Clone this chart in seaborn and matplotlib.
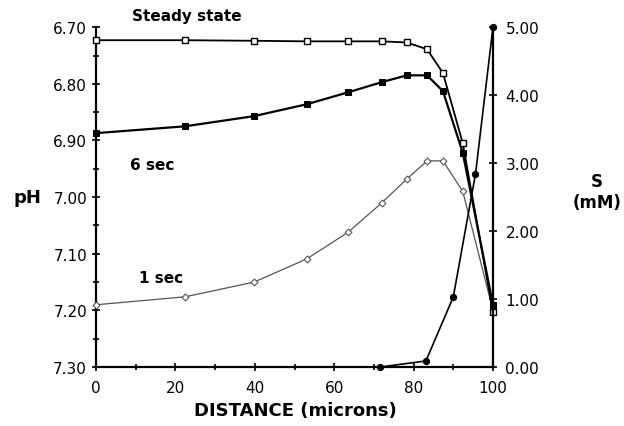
import matplotlib
matplotlib.use("Agg")
import matplotlib.pyplot as plt
import seaborn as sns
import pandas as pd
from matplotlib.ticker import MultipleLocator, FormatStrFormatter

# ---- data ----
distance = [0, 22.4, 39.8, 53.1, 63.5, 72, 78.3, 83.4, 87.4, 92.4, 100]
ph_steady = [6.723, 6.723, 6.724, 6.725, 6.725, 6.725, 6.727, 6.739, 6.781, 6.905, 7.203]
ph_6sec = [6.887, 6.875, 6.857, 6.836, 6.815, 6.797, 6.785, 6.785, 6.813, 6.922, 7.19]
ph_1sec = [7.19, 7.176, 7.15, 7.109, 7.062, 7.010, 6.968, 6.936, 6.936, 6.990, 7.20]
s_distance = [71.5, 83.1, 90.0, 95.6, 100]
s_conc = [0.0, 0.09, 1.03, 2.84, 5.0]

x_ticks = [0, 20, 40, 60, 80, 100]
ph_ticks = [6.70, 6.80, 6.90, 7.00, 7.10, 7.20, 7.30]
s_ticks = [0.0, 1.0, 2.0, 3.0, 4.0, 5.0]

sns.set_style("ticks")
plt.rcParams["font.family"] = ["DejaVu Sans"]
plt.rcParams["text.color"] = "black"
plt.rcParams["axes.labelcolor"] = "black"
plt.rcParams["xtick.color"] = "black"
plt.rcParams["ytick.color"] = "black"

fig, ax = plt.subplots(figsize=(6.24, 4.27), dpi=100)
fig.subplots_adjust(left=0.154, right=0.790, bottom=0.138, top=0.934)

df = pd.DataFrame({"d": distance, "steady": ph_steady, "six": ph_6sec, "one": ph_1sec})
sdf = pd.DataFrame({"d": s_distance, "s": s_conc})

sns.lineplot(data=df, x="d", y="one", ax=ax, color="#555555", lw=0.9,
             marker="D", markersize=3.5, markerfacecolor="white",
             markeredgecolor="#555555", markeredgewidth=0.8, clip_on=False, zorder=3)
sns.lineplot(data=df, x="d", y="six", ax=ax, color="black", lw=1.6,
             marker="s", markersize=5, markerfacecolor="black",
             markeredgecolor="black", clip_on=False, zorder=4)
sns.lineplot(data=df, x="d", y="steady", ax=ax, color="black", lw=1.3,
             marker="s", markersize=4.5, markerfacecolor="white",
             markeredgecolor="black", markeredgewidth=1.0, clip_on=False, zorder=5)

ax.set_xlim(0, 100)
ax.set_ylim(7.30, 6.70)
ax.set_xlabel("")
ax.set_ylabel("")
ax.set_xticks(x_ticks)
ax.xaxis.set_minor_locator(MultipleLocator(10))
ax.set_yticks(ph_ticks)
ax.yaxis.set_minor_locator(MultipleLocator(0.05))
ax.yaxis.set_major_formatter(FormatStrFormatter("%.2f"))
ax.tick_params(axis="both", which="both", direction="inout", width=1.2,
               colors="black", labelsize=11, length=6)
ax.tick_params(axis="both", which="minor", length=5)
ax.tick_params(axis="x", pad=6)
for sp in ["left", "bottom"]:
    ax.spines[sp].set_linewidth(1.6)
    ax.spines[sp].set_color("black")
ax.spines["top"].set_visible(False)
ax.spines["right"].set_visible(False)

ax2 = ax.twinx()
sns.lineplot(data=sdf, x="d", y="s", ax=ax2, color="black", lw=1.2,
             marker="o", markersize=4.5, markerfacecolor="black",
             markeredgecolor="black", clip_on=False, zorder=6)
ax2.set_ylim(0, 5)
ax2.set_xlim(0, 100)
ax2.set_ylabel("")
ax2.set_yticks(s_ticks)
ax2.yaxis.set_major_formatter(FormatStrFormatter("%.2f"))
ax2.tick_params(axis="y", direction="inout", width=1.2, length=6, labelsize=11,
                pad=6, colors="black")
ax2.spines["right"].set_linewidth(1.6)
ax2.spines["right"].set_color("black")
for sp in ["top", "left", "bottom"]:
    ax2.spines[sp].set_visible(False)

W, H = 624, 427
def ft(x, y, s, **kw):
    fig.text(x / W, 1 - y / H, s, ha="center", va="center", fontweight="bold",
             color="black", **kw)

ft(187, 16, "Steady state", fontsize=11)
ft(152, 165, "6 sec", fontsize=11)
ft(161, 279, "1 sec", fontsize=11)
ft(27, 198, "pH", fontsize=13)
ft(597, 182, "S", fontsize=12)
ft(597, 203, "(mM)", fontsize=12)
ft(295, 411, "DISTANCE (microns)", fontsize=13)

fig.savefig("out.png", dpi=100)
